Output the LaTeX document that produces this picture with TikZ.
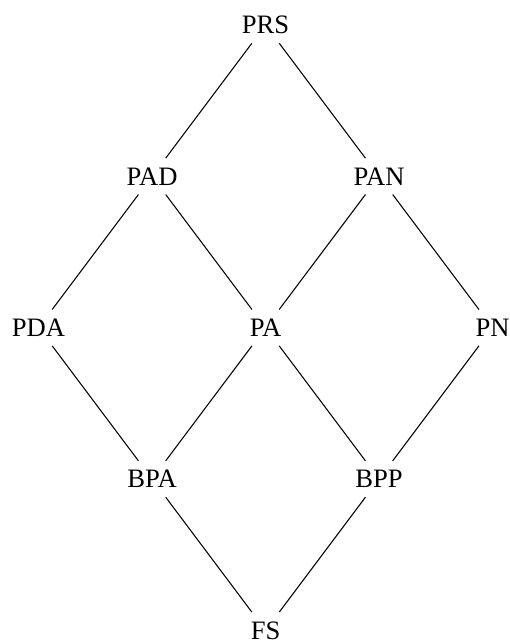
\documentclass[tikz,border=0pt]{standalone}
\usepackage{fontspec}
\setmainfont{Liberation Serif}
\begin{document}
\begin{tikzpicture}[lbl/.style={inner sep=3.333pt, font=\fontsize{10}{12}\selectfont}, edge/.style={draw=black, line width=0.4pt}]
\useasboundingbox (-14.5pt,9.4pt) rectangle (177.2pt,-232pt);
\node[lbl] (PRS) at (3,0) {PRS};
\node[lbl] (PAD) at (1.5,-2) {PAD};
\node[lbl] (PAN) at (4.5,-2) {PAN};
\node[lbl] (PDA) at (0,-4) {PDA};
\node[lbl] (PA) at (3,-4) {PA};
\node[lbl] (PN) at (6,-4) {PN};
\node[lbl] (BPA) at (1.5,-6) {BPA};
\node[lbl] (BPP) at (4.5,-6) {BPP};
\node[lbl] (FS) at (3,-8) {FS};
\path[edge] (PRS) -- (PAD);
\path[edge] (PRS) -- (PAN);
\path[edge] (PAD) -- (PDA);
\path[edge] (PAD) -- (PA);
\path[edge] (PAN) -- (PA);
\path[edge] (PAN) -- (PN);
\path[edge] (PDA) -- (BPA);
\path[edge] (PA) -- (BPA);
\path[edge] (PA) -- (BPP);
\path[edge] (PN) -- (BPP);
\path[edge] (BPA) -- (FS);
\path[edge] (BPP) -- (FS);
\end{tikzpicture}
\end{document}
